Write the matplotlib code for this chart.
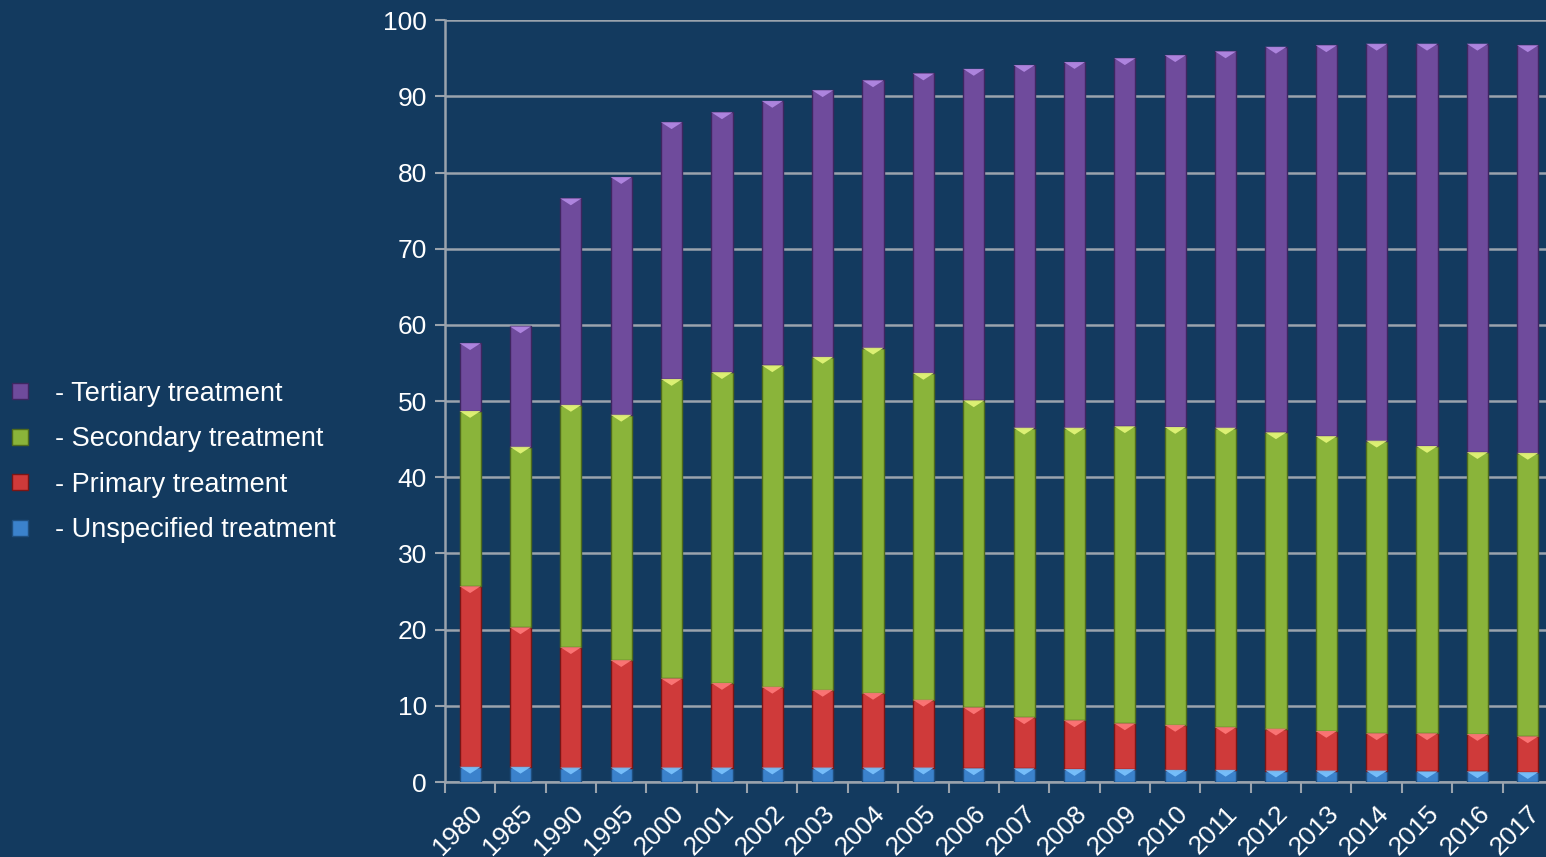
import matplotlib.pyplot as plt
import numpy as np
from matplotlib.patches import Polygon
from matplotlib.lines import Line2D

plt.rcParams['font.family'] = ['Liberation Sans', 'DejaVu Sans']

years = ['1980', '1985', '1990', '1995', '2000', '2001', '2002', '2003', '2004', '2005', '2006',
         '2007', '2008', '2009', '2010', '2011', '2012', '2013', '2014', '2015', '2016', '2017']

unspecified = [2.0, 2.0, 1.9, 1.9, 1.9, 1.9, 1.9, 1.9, 1.9, 1.9, 1.8,
               1.8, 1.7, 1.7, 1.6, 1.6, 1.5, 1.5, 1.5, 1.4, 1.4, 1.3]
primary = [23.7, 18.3, 15.8, 14.1, 11.7, 11.1, 10.6, 10.2, 9.8, 8.9, 8.0,
           6.7, 6.4, 6.0, 5.9, 5.6, 5.5, 5.2, 4.9, 5.0, 4.9, 4.7]
secondary = [23.0, 23.7, 31.8, 32.2, 39.3, 40.8, 42.2, 43.7, 45.3, 42.9, 40.3,
             38.0, 38.4, 39.0, 39.1, 39.3, 38.9, 38.7, 38.4, 37.7, 37.0, 37.2]
tertiary = [8.9, 15.8, 27.1, 31.2, 33.7, 34.1, 34.7, 35.0, 35.1, 39.3, 43.5,
            47.6, 48.0, 48.3, 48.8, 49.4, 50.6, 51.3, 52.1, 52.8, 53.6, 53.5]

series = [
    ('- Unspecified treatment', unspecified, '#3b82cc', '#7cc4ff', '#1f4f80'),
    ('- Primary treatment', primary, '#cf3a3a', '#ff7a7a', '#7a1515'),
    ('- Secondary treatment', secondary, '#8ab43a', '#e6f77a', '#4f6b1c'),
    ('- Tertiary treatment', tertiary, '#6f4b9c', '#b58be6', '#3e2660'),
]

bg = '#133a5f'
grid_c = '#9aa3ad'

fig = plt.figure(figsize=(15.46, 8.57), dpi=100, facecolor=bg)
ax = fig.add_axes([0.2878, 0.0875, 0.7167, 0.889])
ax.set_facecolor(bg)

x = np.arange(len(years))
w = 0.42
bottom = np.zeros(len(years))
handles = []
for label, vals, col, light, dark in series:
    vals = np.array(vals)
    ax.bar(x, vals, w, bottom=bottom, color=col, edgecolor=dark, linewidth=1.0, zorder=3)
    # bevel highlight on top of each segment
    for xi, b, v in zip(x, bottom, vals):
        top = b + v
        tri = Polygon([(xi - w / 2, top), (xi + w / 2, top), (xi, top - 0.9)],
                      closed=True, facecolor=light, edgecolor='none', zorder=4, alpha=0.9)
        ax.add_patch(tri)
    bottom += vals
    handles.append(Line2D([], [], marker='s', linestyle='none', markersize=11,
                          markerfacecolor=col, markeredgecolor=dark, label=label))

ax.set_xlim(-0.5, len(years) - 0.5)
ax.set_ylim(0, 100)
ax.set_yticks(np.arange(0, 101, 10))
ax.yaxis.grid(True, color=grid_c, linewidth=1.8)
ax.set_axisbelow(True)

ax.set_xticks(x)
ax.set_xticklabels(years, rotation=45, ha='right', rotation_mode='anchor',
                   fontsize=19, color='white')
ax.set_xticks(np.arange(len(years) + 1) - 0.5, minor=True)
ax.tick_params(axis='x', which='major', length=0, pad=14)
ax.tick_params(axis='x', which='minor', length=8, width=1.5, color=grid_c, direction='out')
ax.tick_params(axis='y', length=7, width=1.5, color=grid_c, labelsize=19, labelcolor='white', pad=6)

for s in ['top', 'right']:
    ax.spines[s].set_visible(False)
for s in ['left', 'bottom']:
    ax.spines[s].set_color(grid_c)
    ax.spines[s].set_linewidth(1.8)

fig.legend(handles=handles[::-1], loc='center left', bbox_to_anchor=(0.0045, 0.4609),
           frameon=False, fontsize=19.5, labelcolor='white', handlelength=1.0,
           handletextpad=0.78, labelspacing=0.72, borderpad=0, borderaxespad=0)

fig.savefig('out.png', dpi=100, facecolor=bg)
